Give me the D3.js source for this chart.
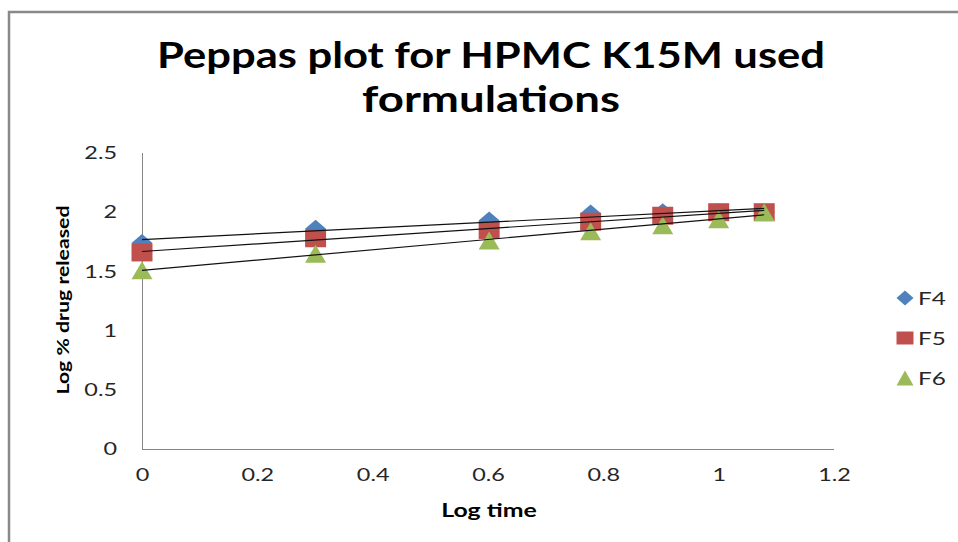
<!DOCTYPE html>
<head>
    <title>Peppas plot</title>
    <meta charset="utf-8" />
</head>
<style>
    body { margin: 0; background: #fff; }
    text { font-family: Lato, "Open Sans", sans-serif; }
    .axis path, .axis line { stroke: #868686; stroke-width: 1px; shape-rendering: crispEdges; }
    .axis text { font-size: 18px; fill: #262626; }
</style>
<body>
<svg id="chart" width="958" height="542"></svg>
<script src="https://d3js.org/d3.v7.min.js"></script>
<script>
    // data
    var logTime = [0, 0.301, 0.602, 0.778, 0.903, 1, 1.079];
    var seriesNames = ["F4", "F5", "F6"];
    var F4 = [1.74, 1.86, 1.93, 1.99, 2.0, 2.0, 2.0];
    var F5 = [1.66, 1.78, 1.85, 1.92, 1.97, 2.0, 2.0];
    var F6 = [1.51, 1.65, 1.76, 1.84, 1.89, 1.94, 2.0];
    var xTicks = [0, 0.2, 0.4, 0.6, 0.8, 1, 1.2];
    var yTicks = [0, 0.5, 1, 1.5, 2, 2.5];
    var colors = ["#4F81BD", "#C0504D", "#9BBB59"];
    var shapes = ["diamond", "square", "triangle"];

    var values = [F4, F5, F6];

    // the original text is stretched sideways, so every label gets this
    var sx = 1.3;

    var svg = d3.select("#chart");

    // outer chart border (only top and left visible)
    svg.append("path")
        .attr("d", "M9,542 L9,12 L958,12")
        .attr("fill", "none")
        .attr("stroke", "#898989")
        .attr("stroke-width", 2.5);

    var x = d3.scaleLinear().domain([0, 1.2]).range([142, 834]);
    var y = d3.scaleLinear().domain([0, 2.5]).range([449, 153]);

    // title
    var title = svg.append("text")
        .attr("text-anchor", "middle")
        .attr("font-size", "37px")
        .attr("font-weight", "bold")
        .attr("fill", "#000");
    title.append("tspan").attr("x", 491).attr("y", 68)
        .attr("textLength", 668).attr("lengthAdjust", "spacingAndGlyphs")
        .text("Peppas plot for HPMC K15M used");
    title.append("tspan").attr("x", 491).attr("y", 112)
        .attr("textLength", 258).attr("lengthAdjust", "spacingAndGlyphs")
        .text("formulations");

    // axes
    svg.append("g")
        .attr("class", "axis")
        .attr("transform", "translate(0,449)")
        .call(d3.axisBottom(x).tickValues(xTicks).tickSize(0).tickPadding(19).tickFormat(d3.format("")))
        .call(function(g) { g.select(".domain").attr("d", "M142,0.5H834"); })
        .selectAll("text").attr("transform", "scale(" + sx + ",1)");

    svg.append("g")
        .attr("class", "axis")
        .attr("transform", "translate(142,0)")
        .call(d3.axisLeft(y).tickValues(yTicks).tickSize(0).tickFormat(d3.format("")))
        .call(function(g) { g.select(".domain").attr("d", "M0.5,153V449"); })
        .selectAll("text")
        .attr("x", -25 / sx)
        .attr("transform", "scale(" + sx + ",1)");

    // axis titles
    svg.append("text")
        .attr("transform", "translate(489,517) scale(1.38,1)")
        .attr("text-anchor", "middle")
        .attr("font-size", "18px")
        .attr("font-weight", "bold")
        .text("Log time");

    svg.append("text")
        .attr("transform", "translate(69,300) rotate(-90) scale(1.25,1)")
        .attr("text-anchor", "middle")
        .attr("font-size", "17px")
        .attr("font-weight", "bold")
        .text("Log % drug released");

    function marker(shape, w, h) {
        var a = w / 2, b = h / 2;
        if (shape == "diamond") return "M0," + (-b) + "L" + a + ",0L0," + b + "L" + (-a) + ",0Z";
        if (shape == "square") return "M" + (-a) + "," + (-b) + "H" + a + "V" + b + "H" + (-a) + "Z";
        return "M0," + (-b) + "L" + a + "," + b + "L" + (-a) + "," + b + "Z";
    }

    // markers
    values.forEach(function(vals, i) {
        var pts = logTime.map(function(t, j) { return [t, vals[j]]; });
        svg.append("g").selectAll("path")
            .data(pts)
            .enter().append("path")
            .attr("transform", function(d) { return "translate(" + x(d[0]) + "," + y(d[1]) + ")"; })
            .attr("d", marker(shapes[i], 21, 18))
            .attr("fill", colors[i]);
    });

    // linear trendlines
    values.forEach(function(vals) {
        var n = logTime.length;
        var mx = d3.mean(logTime), my = d3.mean(vals);
        var sxy = 0, sxx = 0;
        for (var j = 0; j < n; j++) {
            sxy += (logTime[j] - mx) * (vals[j] - my);
            sxx += (logTime[j] - mx) * (logTime[j] - mx);
        }
        var slope = sxy / sxx, icpt = my - slope * mx;
        var x0 = d3.min(logTime), x1 = d3.max(logTime);
        svg.append("line")
            .attr("x1", x(x0)).attr("y1", y(icpt + slope * x0))
            .attr("x2", x(x1)).attr("y2", y(icpt + slope * x1))
            .attr("stroke", "#111")
            .attr("stroke-width", 1.2);
    });

    // legend
    var legend = svg.append("g").attr("transform", "translate(905,298)");
    seriesNames.forEach(function(name, i) {
        var row = legend.append("g").attr("transform", "translate(0," + i * 40 + ")");
        row.append("path")
            .attr("d", marker(shapes[i], 17, shapes[i] == "square" ? 13 : 15))
            .attr("fill", colors[i]);
        row.append("text")
            .attr("transform", "translate(13,7) scale(1.35,1)")
            .attr("font-size", "18px")
            .attr("fill", "#262626")
            .text(name);
    });
</script>
</body>
